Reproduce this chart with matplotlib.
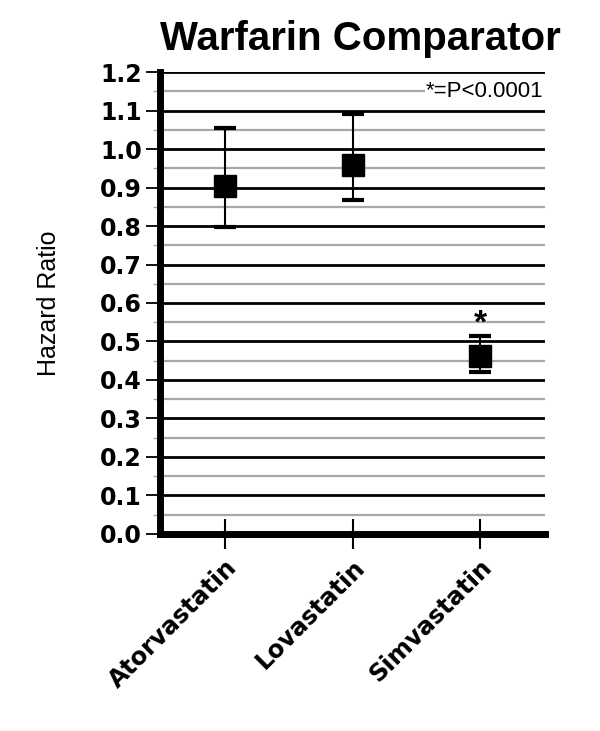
"""
Warfarin Comparator: hazard ratios with 95% CI by statin
"""

import numpy as np
import matplotlib.pyplot as plt
from matplotlib.ticker import MultipleLocator

# data
drugs = ['Atorvastatin', 'Lovastatin', 'Simvastatin']
hazard_ratio = [0.904, 0.958, 0.463]
ci_lower = [0.797, 0.867, 0.420]
ci_upper = [1.055, 1.091, 0.513]
significant = [False, False, True]
y_ticks = [0.0, 0.1, 0.2, 0.3, 0.4, 0.5, 0.6, 0.7, 0.8, 0.9, 1.0, 1.1, 1.2]

fig = plt.figure(figsize=(6.0, 7.31), dpi=100)
ax = fig.add_axes([0.2667, 0.2695, 0.6416, 0.632])

x = np.arange(len(drugs))
hr = np.array(hazard_ratio)
err = np.vstack([hr - np.array(ci_lower), np.array(ci_upper) - hr])

# grid lines: black majors, grey minors
ax.set_ylim(0, 1.2)
ax.set_xlim(-0.51, 2.51)
ax.yaxis.set_major_locator(MultipleLocator(0.1))
ax.yaxis.set_minor_locator(MultipleLocator(0.05))
ax.set_axisbelow(True)
ax.grid(True, axis='y', which='major', color='black', linewidth=2.0)
ax.grid(True, axis='y', which='minor', color='#a8a8a8', linewidth=1.6)

ax.errorbar(x, hr, yerr=err, fmt='s', color='black', markersize=16,
            ecolor='black', elinewidth=1.5, capsize=8, capthick=3, zorder=3)

for xi, yi, sig in zip(x, ci_upper, significant):
    if sig:
        ax.text(xi, yi - 0.008, '*', ha='center', va='bottom', fontsize=24,
                fontweight='bold', family='Liberation Sans', zorder=4)

# p-value note, white box cuts the grid line
ax.text(2.5, 1.15, '*=P<0.0001', ha='right', va='center', fontsize=16,
        family='Liberation Sans',
        bbox=dict(facecolor='white', edgecolor='none', pad=1.0), zorder=4)

# axes styling
for side in ['top', 'right']:
    ax.spines[side].set_visible(False)
ax.spines['left'].set_linewidth(5)
ax.spines['bottom'].set_linewidth(5)

ax.set_yticks(y_ticks)
ax.set_yticklabels([f'{v:.1f}' for v in y_ticks], fontsize=17, fontweight='bold')
ax.tick_params(axis='y', which='major', length=10, width=1.3, direction='out', pad=3)
ax.tick_params(axis='y', which='minor', length=5, width=1.0, color='#a8a8a8', direction='out')

ax.set_xticks(x)
ax.set_xticklabels(drugs, fontsize=17.5, fontweight='bold', rotation=45,
                   ha='right', rotation_mode='anchor')
ax.tick_params(axis='x', which='major', length=22, width=1.5, direction='inout', pad=4)
ax.tick_params(axis='x', which='minor', length=0)

ax.set_ylabel('Hazard Ratio', fontsize=18, family='Liberation Sans', labelpad=28)
ax.set_title('Warfarin Comparator', fontsize=29, fontweight='bold',
             family='Liberation Sans', x=0.52, pad=16)

plt.savefig('out.png', dpi=100)
plt.close()
